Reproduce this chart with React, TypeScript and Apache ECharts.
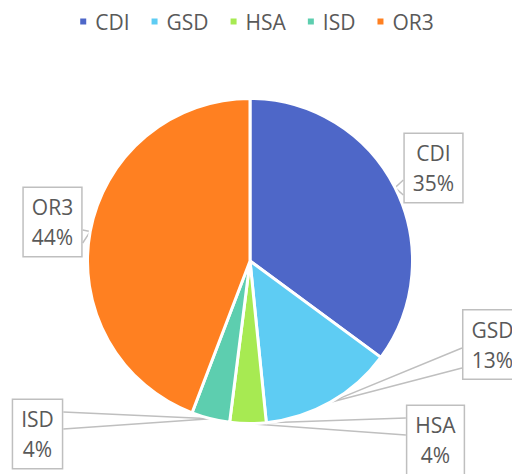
import React, { useEffect, useRef } from "react";
import * as echarts from "echarts";

const categories = ["CDI", "GSD", "HSA", "ISD", "OR3"];
const values = [35.1, 13.3, 3.6, 3.8, 44.2];
const colors = ["#4E67C8", "#5ECCF3", "#A7EA52", "#5DCEAF", "#FF8021"];

// label box centres and the side/offsets of the callout wedge
const labelPlacement = [
  { x: 433.5, y: 168, side: "left", e1: 12, e2: 27 },
  { x: 492.5, y: 344.5, side: "left", e1: 3.5, e2: 23.5 },
  { x: 435.5, y: 440, side: "left", e1: -22, e2: -5 },
  { x: 37.5, y: 434, side: "right", e1: -22, e2: -5 },
  { x: 52.5, y: 222, side: "right", e1: 8, e2: 21 },
];

const FONT = "'Open Sans', 'Noto Sans', sans-serif";
const TEXT = "#595959";
const LINE = "#BFBFBF";

export default function App() {
  const ref = useRef<HTMLDivElement>(null);
  useEffect(() => {
    if (!ref.current) return;
    const chart = echarts.init(ref.current, undefined, { renderer: "svg" });
    chart.setOption({
      animation: false,
      color: colors,
      legend: {
        top: 6,
        left: "center",
        icon: "rect",
        itemWidth: 8,
        itemHeight: 8,
        itemGap: 20,
        data: categories,
        textStyle: { color: TEXT, fontSize: 21, fontFamily: FONT, padding: [0, 0, 0, 3] },
      },
      series: [
        {
          type: "pie",
          center: [250, 261],
          radius: 162.5,
          startAngle: 90,
          clockwise: true,
          percentPrecision: 0,
          avoidLabelOverlap: false,
          itemStyle: { borderColor: "#fff", borderWidth: 3 },
          label: {
            show: true,
            position: "outside",
            formatter: "{b}\n{d}%",
            fontSize: 21,
            fontFamily: FONT,
            color: TEXT,
            lineHeight: 30,
            align: "center",
            backgroundColor: "#fff",
            borderColor: LINE,
            borderWidth: 1.5,
            padding: [4, 8],
          },
          labelLine: {
            show: true,
            length: 10,
            length2: 10,
            lineStyle: { color: LINE, width: 1.5 },
          },
          labelLayout: (params: any) => {
            const p = labelPlacement[params.dataIndex];
            const w = params.labelRect.width;
            const anchor = params.labelLinePoints
              ? params.labelLinePoints[0]
              : [p.x, p.y];
            const ex = p.side === "left" ? p.x - w / 2 : p.x + w / 2;
            return {
              x: p.x,
              y: p.y,
              align: "center",
              verticalAlign: "middle",
              labelLinePoints: [
                [ex, p.y + p.e1],
                [anchor[0], anchor[1]],
                [ex, p.y + p.e2],
              ],
            };
          },
          data: categories.map((name, i) => ({ name, value: values[i] })),
        },
      ],
    });
    return () => chart.dispose();
  }, []);
  return (
    <div
      ref={ref}
      style={{ position: "absolute", left: 0, top: 0, width: 512, height: 474 }}
    />
  );
}
